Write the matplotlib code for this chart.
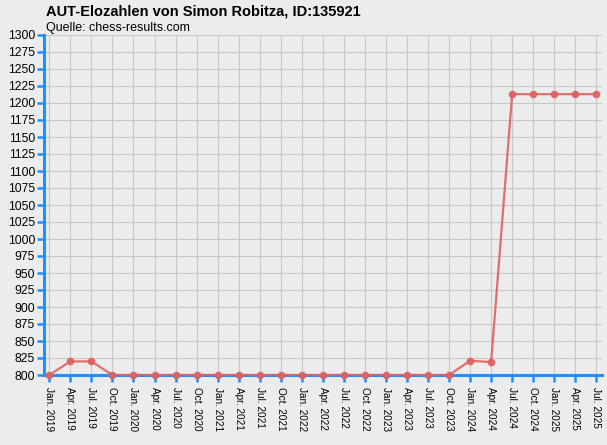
import matplotlib
matplotlib.use("Agg")
import matplotlib.pyplot as plt

plt.rcParams['font.family'] = ['Liberation Sans', 'DejaVu Sans']

labels = ["Jan. 2019", "Apr. 2019", "Jul. 2019", "Oct. 2019",
          "Jan. 2020", "Apr. 2020", "Jul. 2020", "Oct. 2020",
          "Jan. 2021", "Apr. 2021", "Jul. 2021", "Oct. 2021",
          "Jan. 2022", "Apr. 2022", "Jul. 2022", "Oct. 2022",
          "Jan. 2023", "Apr. 2023", "Jul. 2023", "Oct. 2023",
          "Jan. 2024", "Apr. 2024", "Jul. 2024", "Oct. 2024",
          "Jan. 2025", "Apr. 2025", "Jul. 2025"]
elo = [800, 820, 820, 800,
       800, 800, 800, 800,
       800, 800, 800, 800,
       800, 800, 800, 800,
       800, 800, 800, 800,
       821, 819, 1213, 1213,
       1213, 1213, 1213]
yticks = list(range(800, 1301, 25))

bg = '#ececec'
blue = '#1e90ff'
red = '#e06060'

fig = plt.figure(figsize=(6.07, 4.45), dpi=100, facecolor=bg)
W, H = 607, 445
left_px, right_px, top_px, bot_px = 43.5, 602, 35, 375
ax = fig.add_axes([left_px / W, (H - bot_px) / H, (right_px - left_px) / W, (bot_px - top_px) / H])
ax.set_facecolor(bg)

x = list(range(len(labels)))
ax.plot(x, elo, color=red, lw=1.6, marker='o', markersize=4.5, alpha=0.9,
        clip_on=False, zorder=5)

step = 21.04
ax.set_xlim(-(49.3 - left_px) / step, (right_px - 49.3) / step)
ax.set_ylim(800, 1300)
ax.set_xticks(x)
ax.set_xticklabels(labels, rotation=270, fontsize=7.2)
ax.set_yticks(yticks)
ax.set_yticklabels([str(v) for v in yticks], fontsize=8.8)

ax.grid(True, color='#c8c8c8', lw=0.8, zorder=0)
ax.set_axisbelow(True)

for s in ['top', 'right']:
    ax.spines[s].set_visible(False)
for s in ['left', 'bottom']:
    ax.spines[s].set_color(blue)
    ax.spines[s].set_linewidth(2.2)
ax.tick_params(axis='both', colors=blue, length=5, width=1.8, labelcolor='black')
ax.tick_params(axis='y', pad=1)
ax.tick_params(axis='x', pad=3.5)

fig.text(46 / W, 1 - 16 / H, "AUT-Elozahlen von Simon Robitza, ID:135921",
         fontsize=10.5, fontweight='bold', va='baseline', ha='left')
fig.text(46 / W, 1 - 31.5 / H, "Quelle: chess-results.com",
         fontsize=9, va='baseline', ha='left')

fig.savefig("out.png", dpi=100, facecolor=bg)
